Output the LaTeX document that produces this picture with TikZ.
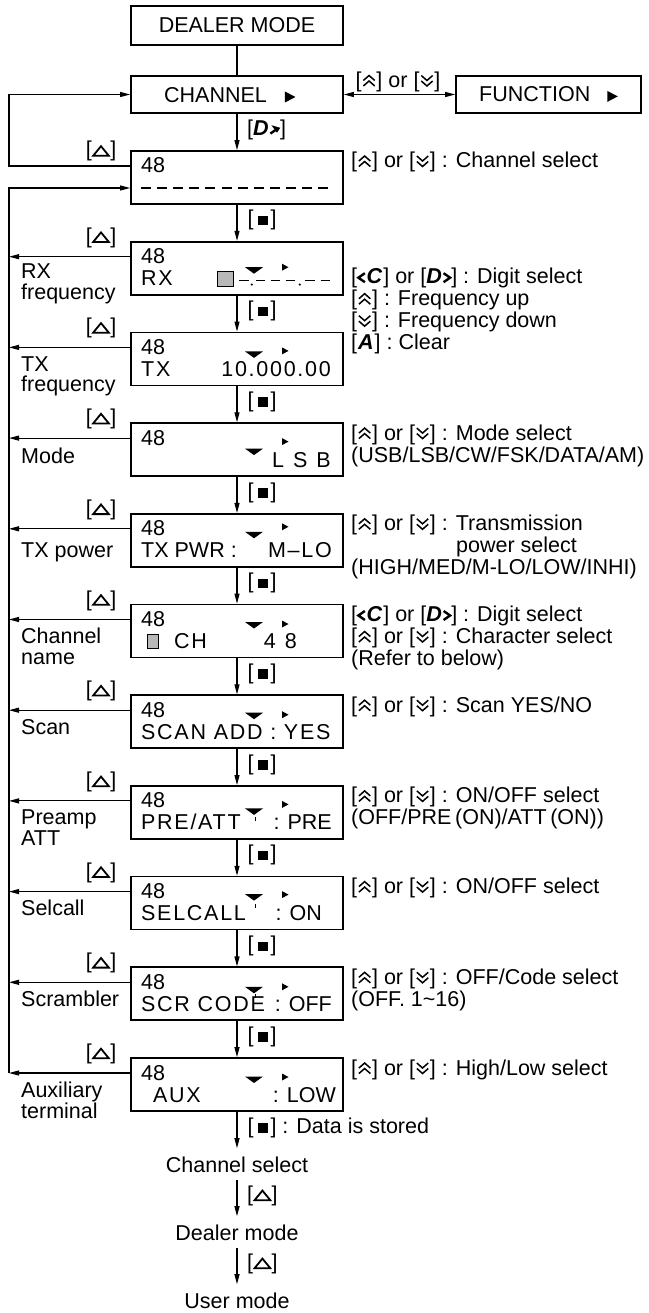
\documentclass[tikz,border=0pt]{standalone}
\usepackage{fontspec}
\setmainfont{Liberation Sans}
\newfontfamily\lcdfont[LetterSpace=8]{Liberation Sans}
\usetikzlibrary{arrows.meta}
\newcommand\symUp{\kern1pt\tikz[baseline=0pt]{\draw[line width=1.5pt] (0.8pt,1.5pt)--(6.5pt,6.5pt)--(12.2pt,1.5pt) (0.8pt,7pt)--(6.5pt,12pt)--(12.2pt,7pt);}\kern1pt}
\newcommand\symDn{\kern1pt\tikz[baseline=0pt]{\draw[line width=1.5pt] (0.8pt,12pt)--(6.5pt,7pt)--(12.2pt,12pt) (0.8pt,6.5pt)--(6.5pt,1.5pt)--(12.2pt,6.5pt);}\kern1pt}
\newcommand\symTri{\kern0.5pt\tikz[baseline=0pt]\draw[line width=1.8pt] (0.9pt,1.2pt)--(16.6pt,1.2pt)--(8.75pt,10.8pt)--cycle;\kern0.5pt}
\newcommand\symSq{[\hspace{4pt}\rule[0.5pt]{10pt}{9.5pt}\hspace{3pt}]}
\newcommand\symGt{\tikz[baseline=0pt]\draw[line width=2.4pt] (1pt,1.5pt)--(7.5pt,6pt)--(1pt,10.5pt);}
\newcommand\symLt{\tikz[baseline=0pt]\draw[line width=2.4pt] (8pt,1.5pt)--(1.5pt,6pt)--(8pt,10.5pt);}
\newcommand\symD{[\textbf{\textit{D}}\kern0.5pt\symGt]}
\newcommand\symC{[\symLt\kern0.5pt\textbf{\textit{C}}\kern1pt]}
\newcommand\symA{[\kern1pt\textbf{\textit{A}}\kern1pt]}
\newcommand\symUD{[\symUp] or [\symDn]}
\newcommand\symRt{\tikz[baseline=0pt]\fill (0pt,0pt)--(10.5pt,5.5pt)--(0pt,11pt)--cycle;}
\begin{document}
\begin{tikzpicture}[x=1pt,y=-1pt,font=\fontsize{21.5}{22}\selectfont,
  conn/.style={line width=1.1pt},
  arr/.style={conn,-{Triangle[length=10pt,width=5pt]}},
  dbl/.style={conn,{Triangle[length=10pt,width=5pt]}-{Triangle[length=10pt,width=5pt]}},
  frm/.style={draw,line width=1.7pt,inner sep=0pt},
  disp/.style={frm,minimum width=212pt,minimum height=53pt},
  txt/.style={anchor=base west,inner sep=0pt},
  txte/.style={anchor=base east,inner sep=0pt},
  lab/.style={anchor=west,inner sep=0pt,xshift=10pt,yshift=2.5pt},
  bot/.style={anchor=base,inner xsep=0pt,inner ysep=8pt}]
\useasboundingbox (0,0) rectangle (648,1313);

% top boxes
\node[frm,minimum width=212pt,minimum height=39pt] (dm) at (237,25.5) {DEALER MODE};
\node[frm,minimum width=212pt,minimum height=37pt] (ch) at (237,94.5) {};
\node[txt] (chT) at (164,102.5) {CHANNEL\hspace{18pt}\symRt};
\node[frm,minimum width=185pt,minimum height=37pt] (fn) at (548.5,94.5) {FUNCTION\hspace{17pt}\symRt};
\draw[conn] (dm) -- (ch);
\draw[dbl] (ch) -- (fn);
\node[anchor=base,inner sep=0pt] (ud) at (398,87.5) {\symUD};

% display boxes
\foreach \i in {0,...,10} {
  \pgfmathsetmacro\tp{151+90.7*\i}
  \node[disp] (b\i) at (237,\tp+26.5) {};
  \node[txt] (n\i) at (141,\tp+22) {48};
  \coordinate (L\i) at (9,\tp+15);
}
\draw[arr] (ch) -- node[lab,midway] (kd0) {\symD} (b0);
\foreach \i [evaluate=\i as \j using int(\i+1)] in {0,...,9} {
  \draw[arr] (b\i) -- node[lab,midway] (k\i) {\symSq} (b\j);
}
% left return arrows
\draw[arr] (b0.west |- L0) -- (L0) -- (L0 |- ch.west) -- (ch.west);
\node[anchor=base,inner sep=0pt] (t0) at (101,157) {[\symTri]};
\foreach \i in {1,...,10} {
  \pgfmathsetmacro\tp{151+90.7*\i}
  \draw[arr] (b\i.west |- L\i) -- (L\i);
  \node[anchor=base,inner sep=0pt] (t\i) at (101,\tp+1.5) {[\symTri]};
}
\coordinate (S) at (9,188);
\draw[arr] (L10) -- (S) -- (S -| b0.west);

% markers in displays
\foreach \i/\a/\b in {1/28.5/25.5,2/22/18.5,3/28.5/18.5,4/21/13,5/20.5/19.5,6/20.5/19.5,7/25.5/18.5,8/20.5/18,9/22.5/19.5,10/21.5/19} {
  \pgfmathsetmacro\tp{151+90.7*\i}
  \fill (245,\tp+\a-3) -- (263,\tp+\a-3) -- (254,\tp+\a+3.5) -- cycle;
  \fill (282,\tp+\b-3.5) -- (288.5,\tp+\b) -- (282,\tp+\b+3.5) -- cycle;
}
\foreach \i/\a in {7/31,8/27,9/27} {
  \pgfmathsetmacro\tp{151+90.7*\i}
  \fill (254.6,\tp+\a) rectangle (256.4,\tp+\a+4);
}

% display 0
\draw[line width=1.4pt,dash pattern=on 10pt off 6.1pt] (141,188) -- (334,188);
% display 1 RX
\node[txt] (d1) at (141,285.7) {\lcdfont RX};
\filldraw[fill=black!28,draw=black,line width=1pt] (217.5,271.2) rectangle (233.5,286.2);
\foreach \xa in {239,255.5,270.5,285.5,305,320.5} {
  \draw[line width=1.3pt] (\xa,280.2) -- (\xa+9.5,280.2);
}
\fill (251.8,284.6) circle (1.2pt);
\fill (299.8,284.6) circle (1.2pt);
% display 2 TX
\node[txt] (d2a) at (141,376.4) {\lcdfont TX};
\node[txte] (d2b) at (331,376.4) {\lcdfont 10.000.00};
% display 3 Mode
\node[txte] (d3) at (331,467.1) {L\kern9pt S\kern9pt B};
% display 4 TX power
\node[txt] (d4a) at (141,557.8) {TX PWR :};
\node[txte] (d4b) at (332,557.8) {\lcdfont M–LO};
% display 5 channel name
\filldraw[fill=black!28,draw=black,line width=1pt] (147,634.5) rectangle (158,648.5);
\node[txt] (d5a) at (174,648.5) {\lcdfont CH};
\node[txte] (d5b) at (297,648.5) {4\kern9pt 8};
% display 6 scan
\node[txt] (d6) at (141,739.2) {\lcdfont SCAN ADD : YES};
% display 7 preamp
\node[txt] (d7a) at (141,829.9) {\lcdfont PRE/ATT};
\node[txte] (d7b) at (332,829.9) {: PRE};
% display 8 selcall
\node[txt] (d8a) at (141,920.6) {\lcdfont SELCALL};
\node[txte] (d8b) at (322,920.6) {: ON};
% display 9 scrambler
\node[txt] (d9a) at (141,1011.3) {\lcdfont SCR CODE};
\node[txte] (d9b) at (332,1011.3) {: OFF};
% display 10 aux
\node[txt] (d10a) at (153,1102) {\lcdfont AUX};
\node[txte] (d10b) at (336,1102) {: LOW};

% left labels
\node[txt] (l1a) at (21,279) {RX};
\node[txt] (l1b) at (21,299.5) {frequency};
\node[txt] (l2a) at (21,371) {TX};
\node[txt] (l2b) at (21,391.5) {frequency};
\node[txt] (l3) at (21,463) {Mode};
\node[txt] (l4) at (21,557.8) {TX power};
\node[txt] (l5a) at (21,643.5) {Channel};
\node[txt] (l5b) at (21,664.5) {name};
\node[txt] (l6) at (21,734.2) {Scan};
\node[txt] (l7a) at (21,824.9) {Preamp};
\node[txt] (l7b) at (21,845.9) {ATT};
\node[txt] (l8) at (21,915.6) {Selcall};
\node[txt] (l9) at (21,1006.3) {Scrambler};
\node[txt] (l10a) at (21,1097) {Auxiliary};
\node[txt] (l10b) at (21,1118) {terminal};

% right texts
\node[txt] (r0) at (351,168) {\symUD{} : Channel select};
\node[txt] (r1a) at (351,283.7) {\symC{} or \symD{} : Digit select};
\node[txt] (r1b) at (351,305.7) {[\symUp] : Frequency up};
\node[txt] (r1c) at (351,327.7) {[\symDn] : Frequency down};
\node[txt] (r1d) at (351,349.7) {\symA{} : Clear};
\node[txt] (r3a) at (351,440.1) {\symUD{} : Mode select};
\node[txt] (r3b) at (351,462.1) {(USB/LSB/CW/FSK/DATA/AM)};
\node[txt] (r4a) at (351,530.8) {\symUD{} : Transmission};
\node[txt] (r4b) at (456,552.8) {power select};
\node[txt] (r4c) at (351,574.8) {(HIGH/MED/M-LO/LOW/INHI)};
\node[txt] (r5a) at (351,621.5) {\symC{} or \symD{} : Digit select};
\node[txt] (r5b) at (351,643.5) {\symUD{} : Character select};
\node[txt] (r5c) at (351,665.5) {(Refer to below)};
\node[txt] (r6) at (351,712.2) {\symUD{} : Scan YES/NO};
\node[txt] (r7a) at (351,802.9) {\symUD{} : ON/OFF select};
\node[txt] (r7b) at (351,824.9) {(OFF/PRE\,(ON)/ATT\,(ON))};
\node[txt] (r8) at (351,893.6) {\symUD{} : ON/OFF select};
\node[txt] (r9a) at (351,984.3) {\symUD{} : OFF/Code select};
\node[txt] (r9b) at (351,1006.3) {(OFF. 1\textasciitilde16)};
\node[txt] (r10) at (351,1075) {\symUD{} : High/Low select};

% bottom
\node[bot] (cs) at (237,1172) {Channel select};
\node[bot] (dlm) at (237,1240) {Dealer mode};
\node[bot] (um) at (237,1308) {User mode};
\draw[arr] (b10) -- node[lab,midway] (kst) {\symSq{} : Data is stored} (cs);
\draw[arr] (cs) -- node[lab,midway] (kt1) {[\symTri]} (dlm);
\draw[arr] (dlm) -- node[lab,midway] (kt2) {[\symTri]} (um);
\end{tikzpicture}
\end{document}
